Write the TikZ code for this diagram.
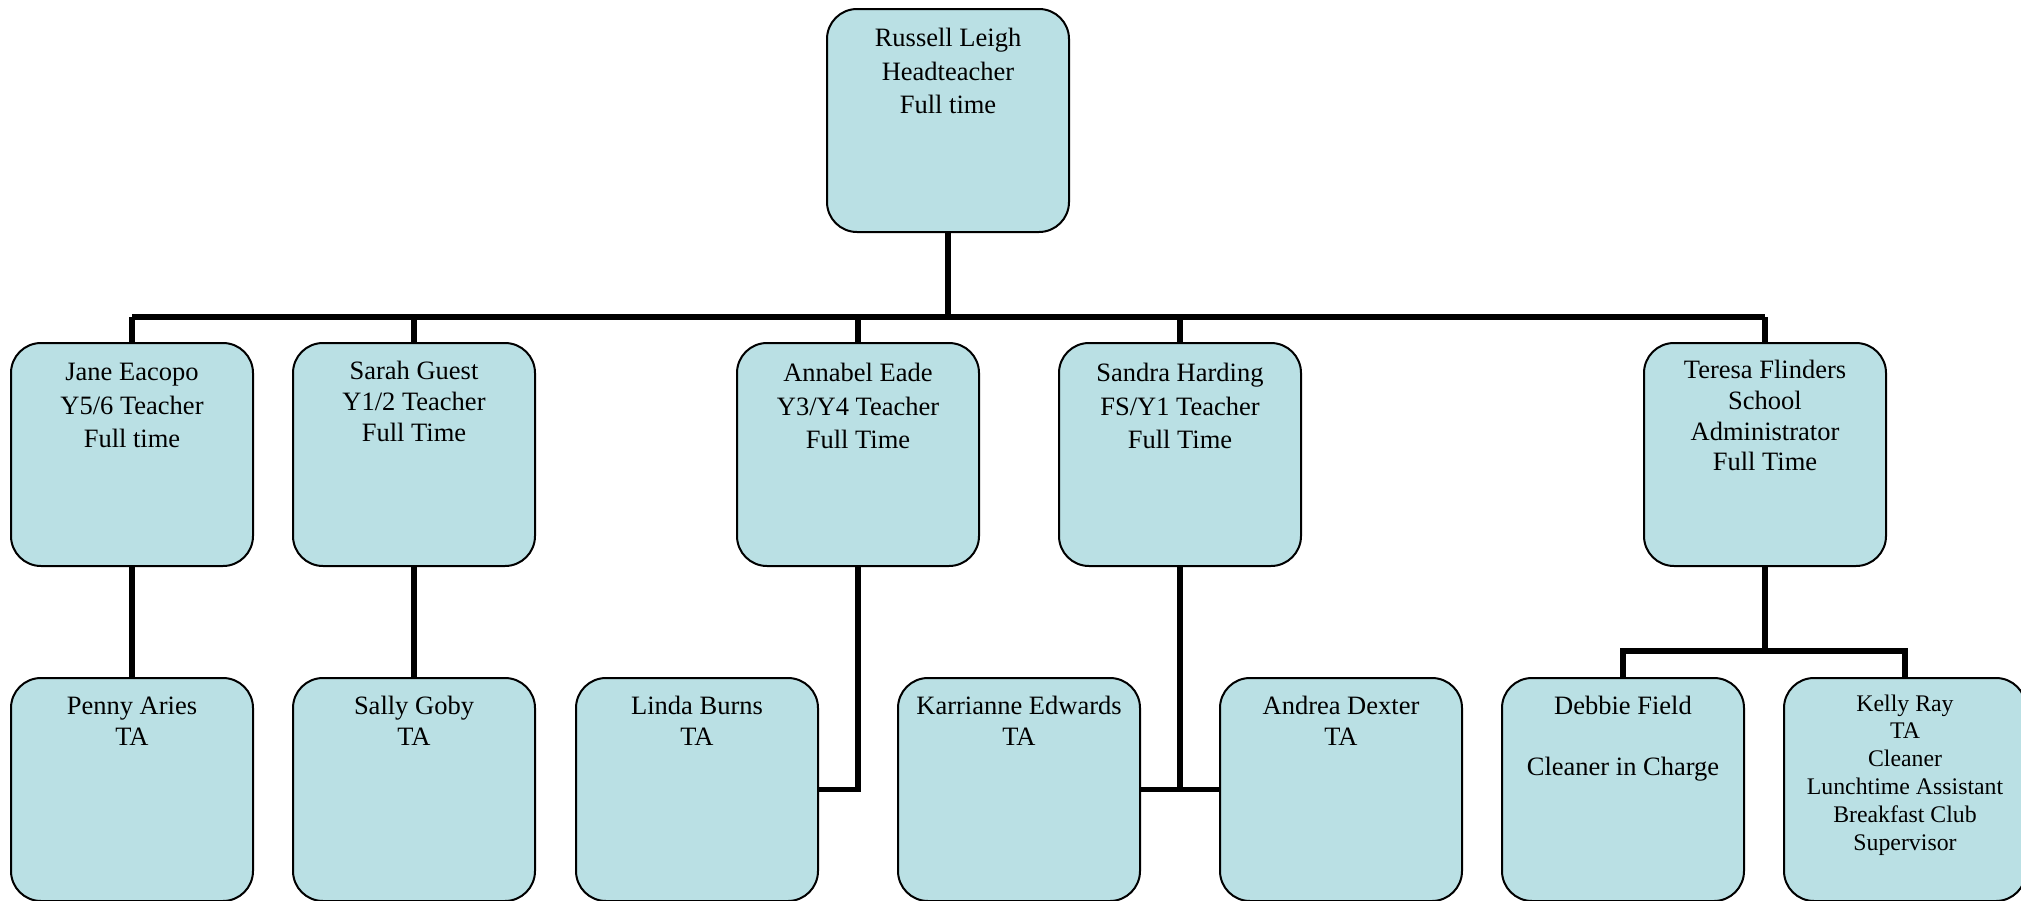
\documentclass[tikz,border=0pt]{standalone}
\usepackage{fontspec}
\setmainfont{Liberation Serif}
\definecolor{boxfill}{RGB}{186,224,228}
\newcommand{\cbox}[4]{\parbox[c][223pt][t]{242pt}{\centering\fontsize{#1}{#2}\selectfont\vspace*{#3}#4\par}}
\tikzset{
  staffbox/.style={draw=black, line width=2pt, rounded corners=30pt, fill=boxfill, inner sep=0pt, anchor=north},
  conn/.style={draw=black, line width=5.5pt}
}
\begin{document}
\begin{tikzpicture}[x=1pt,y=-1pt]
\useasboundingbox (0,0) rectangle (2021,900);
% row 1
\node[staffbox] (rl) at (948,8) {\cbox{26.5pt}{33.5pt}{19.5pt}{Russell Leigh\\Headteacher\\Full time}};
% row 2
\node[staffbox] (je) at (132,342) {\cbox{26.5pt}{33.5pt}{20.5pt}{Jane Eacopo\\Y5/6 Teacher\\Full time}};
\node[staffbox] (sg) at (414,342) {\cbox{26.5pt}{31pt}{18.5pt}{Sarah Guest\\Y1/2 Teacher\\Full Time}};
\node[staffbox] (ae) at (858,342) {\cbox{26.5pt}{33.5pt}{20.5pt}{Annabel Eade\\Y3/Y4 Teacher\\Full Time}};
\node[staffbox] (sh) at (1180,342) {\cbox{26.5pt}{33.5pt}{20.5pt}{Sandra Harding\\FS/Y1 Teacher\\Full Time}};
\node[staffbox] (tf) at (1765,342) {\cbox{26.5pt}{30.7pt}{17.5pt}{Teresa Flinders\\School\\Administrator\\Full Time}};
% row 3
\node[staffbox] (pa) at (132,677) {\cbox{26.5pt}{31pt}{18.5pt}{Penny Aries\\TA}};
\node[staffbox] (sgo) at (414,677) {\cbox{26.5pt}{31pt}{18.5pt}{Sally Goby\\TA}};
\node[staffbox] (lb) at (697,677) {\cbox{26.5pt}{31pt}{18.5pt}{Linda Burns\\TA}};
\node[staffbox] (ke) at (1019,677) {\cbox{26.5pt}{31pt}{18.5pt}{Karrianne Edwards\\TA}};
\node[staffbox] (ad) at (1341,677) {\cbox{26.5pt}{31pt}{18.5pt}{Andrea Dexter\\TA}};
\node[staffbox] (df) at (1623,677) {\cbox{26.5pt}{30.5pt}{18.5pt}{Debbie Field\\[30.5pt]Cleaner in Charge}};
\node[staffbox] (kr) at (1905,677) {\cbox{23.8pt}{27.8pt}{16.6pt}{Kelly Ray\\TA\\Cleaner\\Lunchtime Assistant\\Breakfast Club\\Supervisor}};
% connectors
\coordinate (bus) at (0,317);
\coordinate (tbus) at (0,651);
\draw[conn] (rl.south) -- (rl.south |- bus);
\draw[conn] (je.north |- bus) -- (tf.north |- bus);
\foreach \n in {je,sg,ae,sh,tf} \draw[conn] (\n.north |- bus) -- (\n.north);
\draw[conn] (je.south) -- (pa.north);
\draw[conn] (sg.south) -- (sgo.north);
\draw[conn] (ae.south) |- (lb.east);
\draw[conn] (sh.south) -- (sh.south |- ke.east);
\draw[conn] (ke.east) -- (ad.west);
\draw[conn] (tf.south) -- (tf.south |- tbus);
\draw[conn] (df.north) -- (df.north |- tbus) -- (kr.north |- tbus) -- (kr.north);
\end{tikzpicture}
\end{document}
